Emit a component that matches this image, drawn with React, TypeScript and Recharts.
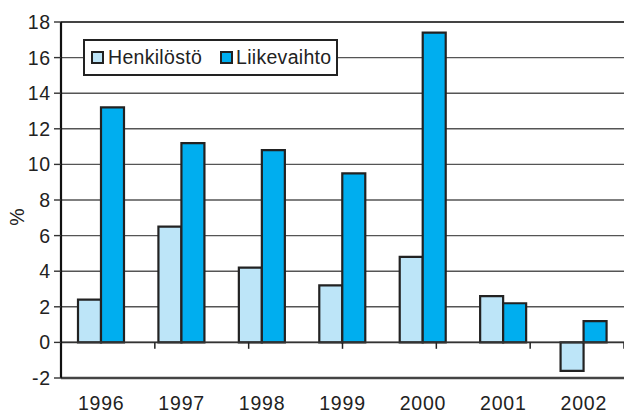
import React from 'react';
import { BarChart, Bar, XAxis, YAxis, CartesianGrid, ReferenceLine, Legend } from 'recharts';

const categories = ['1996', '1997', '1998', '1999', '2000', '2001', '2002'];
const henkilosto = [2.4, 6.5, 4.2, 3.2, 4.8, 2.6, -1.6];
const liikevaihto = [13.2, 11.2, 10.8, 9.5, 17.4, 2.2, 1.2];
const yTicks = [-2, 0, 2, 4, 6, 8, 10, 12, 14, 16, 18];
const seriesNames = ['Henkilöstö', 'Liikevaihto'];
const seriesColors = ['#bde5f8', '#00aeef'];

const data = categories.map((c, i) => ({ year: c, h: henkilosto[i], l: liikevaihto[i] }));
const boundaries = categories.slice(1).map((_, i) => i + 1);

const FONT = '"Liberation Sans", Arial, sans-serif';
const FS = 19.5;
const LS = 0.8;
const LFS = 19.5;

const LegendBox = () => {
  const sw = (color: string, left: number) => (
    <div style={{ position: 'absolute', left, top: 10, width: 13, height: 13, boxSizing: 'border-box', border: '2px solid #222', background: color }} />
  );
  const txt = (t: string, left: number) => (
    <div style={{ position: 'absolute', left, top: 5, fontFamily: FONT, fontSize: LFS, letterSpacing: 0.3, color: '#222', lineHeight: '23px', whiteSpace: 'nowrap' }}>{t}</div>
  );
  return (
    <div style={{ position: 'relative', width: 255, height: 37, boxSizing: 'border-box', border: '2px solid #222', background: '#fff' }}>
      {sw(seriesColors[0], 6)}
      {txt(seriesNames[0], 23)}
      {sw(seriesColors[1], 135)}
      {txt(seriesNames[1], 151)}
    </div>
  );
};

const PercentLabel = (props: any) => {
  const vb = props.viewBox || { x: 0, y: 22, width: 61, height: 356 };
  const x = vb.x + 17;
  const y = vb.y + vb.height / 2 + 17;
  return (
    <text x={x} y={y} transform={`rotate(-90 ${x} ${y})`} textAnchor="middle" dy="0.35em" fontFamily={FONT} fontSize={FS} fill="#222">%</text>
  );
};

export default function App() {
  return (
    <div style={{ position: 'absolute', left: 0, top: 0, width: 624, height: 413, background: '#fff' }}>
      <BarChart width={624} height={413} data={data} margin={{ top: 22, right: 0, left: 0, bottom: 0 }} barGap={0} barSize={23}>
        <CartesianGrid vertical={false} stroke="#555" strokeWidth={1.4} />
        <XAxis
          dataKey="year"
          height={35}
          tickLine={false}
          axisLine={{ stroke: '#444', strokeWidth: 2.5 }}
          tickSize={0}
          tickMargin={18}
          tick={{ fontFamily: FONT, fontSize: FS, fill: '#222', letterSpacing: LS }}
          interval={0}
        />
        <XAxis xAxisId="b" type="number" domain={[0, 7]} hide />
        <YAxis
          domain={[-2, 18]}
          ticks={yTicks}
          interval={0}
          width={61}
          tickSize={7}
          tickMargin={3}
          axisLine={{ stroke: '#111', strokeWidth: 2.2 }}
          tickLine={{ stroke: '#333', strokeWidth: 1.4 }}
          tick={{ fontFamily: FONT, fontSize: FS, fill: '#222', letterSpacing: LS }}
          label={{ content: PercentLabel }}
        />
        <ReferenceLine y={18} stroke="#444" strokeWidth={2.2} />
        <Bar dataKey="h" name={seriesNames[0]} fill={seriesColors[0]} stroke="#222" strokeWidth={2.2} isAnimationActive={false} />
        <Bar dataKey="l" name={seriesNames[1]} fill={seriesColors[1]} stroke="#222" strokeWidth={2.2} isAnimationActive={false} />
        <ReferenceLine y={0} stroke="#333" strokeWidth={1.6} />
        {boundaries.map((b) => (
          <ReferenceLine
            key={b}
            xAxisId="b"
            segment={[{ x: b, y: 0 }, { x: b, y: -0.36 }]}
            stroke="#222"
            strokeWidth={1.5}
          />
        ))}
        <Legend
          layout="horizontal"
          verticalAlign="middle"
          align="center"
          content={<LegendBox />}
          wrapperStyle={{ position: 'absolute', left: 83, top: 39, width: 255, height: 37 }}
        />
      </BarChart>
    </div>
  );
}
